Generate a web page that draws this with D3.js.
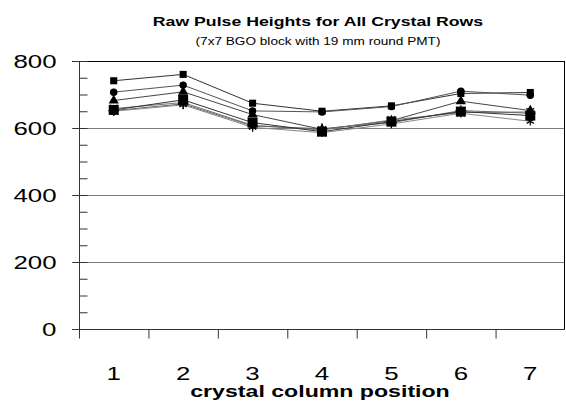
<!DOCTYPE html>
<html>
<head>
<meta charset="utf-8">
<script src="https://cdn.jsdelivr.net/npm/d3@7"></script>
<style>
  html, body { margin: 0; padding: 0; background: #fff; }
  svg { display: block; }
  text { font-family: "Liberation Sans", Arial, Helvetica, sans-serif; fill: #000; }
</style>
</head>
<body>
<svg id="chart" width="566" height="404"></svg>
<script>
// crystal column positions along the block
const columns = ["1", "2", "3", "4", "5", "6", "7"];
const yTicks = [0, 200, 400, 600, 800];
const yMinor = [50, 100, 150, 250, 300, 350, 450, 500, 550, 650, 700, 750];

// raw pulse height per crystal row
const row1 = [741, 760, 674, 650, 666, 703, 706];
const row2 = [707, 728, 651, 648, 664, 710, 698];
const row3 = [682, 708, 640, 596, 622, 680, 652];
const row4 = [658, 676, 608, 594, 624, 646, 648];
const row5 = [652, 672, 606, 598, 616, 652, 644];
const row6 = [650, 669, 602, 586, 612, 644, 620];
const row7 = [654, 684, 616, 589, 619, 649, 637];

const rows = [
  { values: row1, symbol: d3.symbolSquare, size: 50, fill: true, stroke: "#333" },
  { values: row2, symbol: d3.symbolCircle, size: 44, fill: true, stroke: "#555" },
  { values: row3, symbol: d3.symbolTriangle, size: 45, fill: true, stroke: "#444" },
  { values: row4, symbol: d3.symbolTimes, size: 40, fill: false, stroke: "#777" },
  { values: row5, symbol: d3.symbolPlus, size: 40, fill: false, stroke: "#666" },
  { values: row6, symbol: d3.symbolAsterisk, size: 48, fill: false, stroke: "#888" },
  { values: row7, symbol: d3.symbolSquare, size: 100, fill: true, stroke: "#333" }
];

const svg = d3.select("#chart");
const plotLeft = 79, plotRight = 565, plotTop = 61, plotBottom = 329;

const x = d3.scaleBand().domain(columns).range([plotLeft, plotRight]);
const y = d3.scaleLinear().domain([0, 800]).range([plotBottom, plotTop]);

// horizontal gridlines
svg.append("g").selectAll("line")
  .data(yTicks.filter(v => v > 0 && v < 800))
  .join("line")
  .attr("x1", plotLeft - 7).attr("x2", plotRight)
  .attr("y1", d => y(d) + 0.5).attr("y2", d => y(d) + 0.5)
  .attr("stroke", "#7a7a7a").attr("stroke-width", 1);

// frame: top and right edges
svg.append("line")
  .attr("x1", plotLeft - 7).attr("x2", plotRight)
  .attr("y1", y(800) + 0.5).attr("y2", y(800) + 0.5)
  .attr("stroke", "#000");
svg.append("line")
  .attr("x1", plotRight - 0.5).attr("x2", plotRight - 0.5)
  .attr("y1", y(800)).attr("y2", plotBottom)
  .attr("stroke", "#000");

// y axis with crossing major ticks and inner minor ticks
const yAxis = svg.append("g").attr("transform", `translate(${plotLeft + 0.5},0)`);
yAxis.append("line").attr("y1", y(800)).attr("y2", plotBottom + 0.5).attr("stroke", "#333");
yAxis.selectAll("line.major").data(yTicks).join("line").attr("class", "major")
  .attr("x1", -7).attr("x2", 8)
  .attr("y1", d => y(d) + 0.5).attr("y2", d => y(d) + 0.5)
  .attr("stroke", "#333");
yAxis.selectAll("line.minor").data(yMinor).join("line").attr("class", "minor")
  .attr("x1", 0).attr("x2", 8)
  .attr("y1", d => y(d) + 0.5).attr("y2", d => y(d) + 0.5)
  .attr("stroke", "#333");
yAxis.selectAll("text").data(yTicks).join("text")
  .attr("x", -23).attr("y", d => y(d))
  .attr("dy", "0.36em")
  .attr("text-anchor", "end")
  .attr("font-size", 19)
  .text(d => d);

// x axis with ticks at the column boundaries
const xAxis = svg.append("g").attr("transform", `translate(0,${plotBottom + 0.5})`);
xAxis.append("line").attr("x1", plotLeft - 7).attr("x2", plotRight).attr("stroke", "#333");
xAxis.selectAll("line.tick").data(columns).join("line").attr("class", "tick")
  .attr("x1", d => x(d) + 0.5).attr("x2", d => x(d) + 0.5)
  .attr("y1", 0).attr("y2", 9)
  .attr("stroke", "#333");
xAxis.selectAll("text").data(columns).join("text")
  .attr("x", d => x(d) + x.bandwidth() / 2)
  .attr("y", 50)
  .attr("text-anchor", "middle")
  .attr("font-size", 19)
  .text(d => d);

// series lines and markers
const line = d3.line()
  .x((d, i) => x(columns[i]) + x.bandwidth() / 2)
  .y(d => y(d));

const series = svg.append("g");
rows.forEach(r => {
  series.append("path")
    .attr("d", line(r.values))
    .attr("fill", "none")
    .attr("stroke", r.stroke)
    .attr("stroke-width", 1);
});
rows.forEach(r => {
  const sym = d3.symbol().type(r.symbol).size(r.size);
  series.append("g").selectAll("path")
    .data(r.values)
    .join("path")
    .attr("transform", (d, i) => `translate(${x(columns[i]) + x.bandwidth() / 2},${y(d)})`)
    .attr("d", sym)
    .attr("fill", r.fill ? "#000" : "none")
    .attr("stroke", "#000")
    .attr("stroke-width", r.fill ? 0 : 1.2);
});

// titles
svg.append("text")
  .attr("x", 318).attr("y", 26)
  .attr("text-anchor", "middle")
  .attr("font-size", 13).attr("font-weight", "bold")
  .text("Raw Pulse Heights for All Crystal Rows");
svg.append("text")
  .attr("x", 318).attr("y", 45)
  .attr("text-anchor", "middle")
  .attr("font-size", 10)
  .text("(7x7 BGO block with 19 mm round PMT)");
svg.append("text")
  .attr("x", 320).attr("y", 397)
  .attr("text-anchor", "middle")
  .attr("font-size", 17).attr("font-weight", "bold")
  .text("crystal column position");

// the typeface is set wide: widen every label horizontally
svg.selectAll("text").each(function () {
  const w = this.getComputedTextLength();
  this.setAttribute("textLength", (w * 1.36).toFixed(1));
  this.setAttribute("lengthAdjust", "spacingAndGlyphs");
});
</script>
</body>
</html>
